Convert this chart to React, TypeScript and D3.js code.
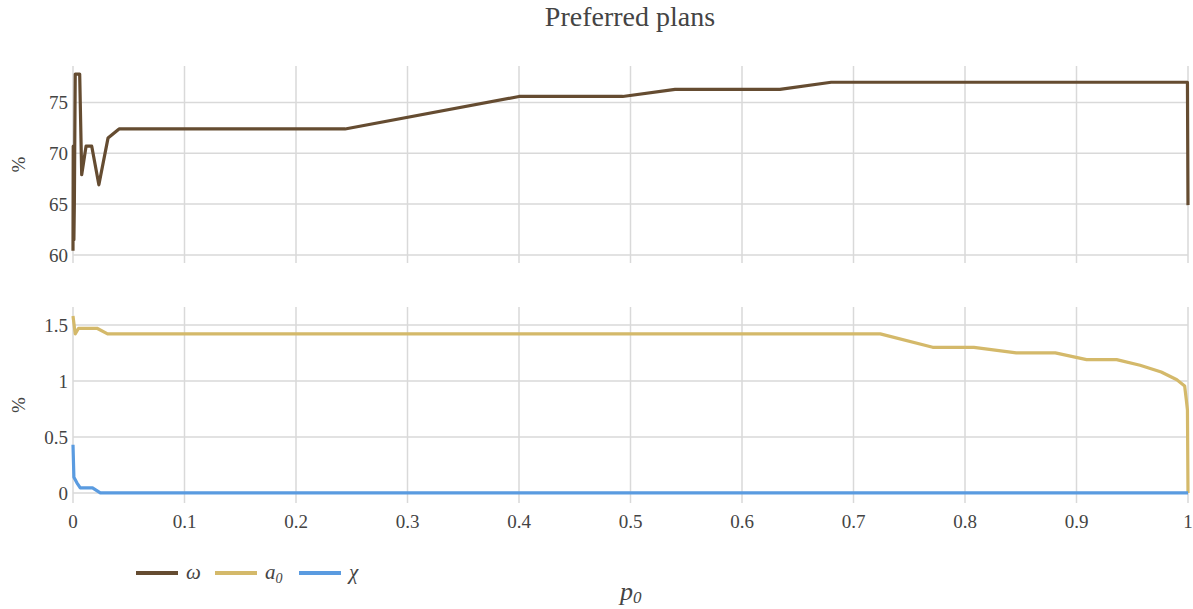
import React from "react";
import * as d3 from "d3";

const omegaP = [0, 0.0002, 0.0008, 0.0012, 0.002, 0.006, 0.0078, 0.0117, 0.0168, 0.0232, 0.0314, 0.0413, 0.244, 0.4, 0.493, 0.54, 0.634, 0.68, 0.9995, 1.0];
const omegaV = [60.4, 70.7, 61.5, 64.9, 77.8, 77.8, 67.9, 70.7, 70.7, 66.9, 71.5, 72.4, 72.4, 75.6, 75.6, 76.3, 76.3, 77.0, 77.0, 64.9];

const a0P = [0, 0.002, 0.005, 0.0215, 0.031, 0.724, 0.771, 0.808, 0.846, 0.881, 0.909, 0.936, 0.957, 0.976, 0.99, 0.997, 0.9985, 0.9995, 1.0];
const a0V = [1.58, 1.42, 1.47, 1.47, 1.42, 1.42, 1.3, 1.3, 1.25, 1.25, 1.19, 1.19, 1.14, 1.08, 1.01, 0.955, 0.83, 0.74, 0.0];

const chiP = [0, 0.0008, 0.0035, 0.0065, 0.0175, 0.0245, 1.0];
const chiV = [0.43, 0.14, 0.09, 0.045, 0.045, 0.0, 0.0];

const xTicks = [0, 0.1, 0.2, 0.3, 0.4, 0.5, 0.6, 0.7, 0.8, 0.9, 1];
const topTicks = [60, 65, 70, 75];
const botTicks = [0, 0.5, 1, 1.5];

const C_OMEGA = "#654c31";
const C_A0 = "#d4b96a";
const C_CHI = "#5a9be0";
const GRID = "#d9d9d9";
const TXT = "#444";
const FONT = "'Liberation Serif', 'DejaVu Serif', serif";

export default function App() {
  const W = 1193, H = 609;
  const x = d3.scaleLinear().domain([0, 1]).range([73, 1188]);
  const yTop = d3.scaleLinear().domain([59.2, 78.6]).range([263, 66]);
  const yBot = d3.scaleLinear().domain([-0.09, 1.66]).range([503, 307]);

  const mk = (ys: d3.ScaleLinear<number, number>) =>
    d3.line<[number, number]>().x(d => x(d[0])).y(d => ys(d[1]));
  const omegaPath = mk(yTop)(omegaP.map((p, i) => [p, omegaV[i]]));
  const a0Path = mk(yBot)(a0P.map((p, i) => [p, a0V[i]]));
  const chiPath = mk(yBot)(chiP.map((p, i) => [p, chiV[i]]));

  const panel = (ys: d3.ScaleLinear<number, number>, ticks: number[], key: string) => {
    const [y0, y1] = ys.range();
    return (
      <g key={key}>
        {xTicks.map(t => (
          <line key={"vx" + t} x1={x(t)} x2={x(t)} y1={y1} y2={y0} stroke={GRID} strokeWidth={1.5} />
        ))}
        {ticks.map(t => (
          <g key={"hy" + t}>
            <line x1={x(0)} x2={x(1)} y1={ys(t)} y2={ys(t)} stroke={GRID} strokeWidth={1.5} />
            <text x={68} y={ys(t)} dy="0.35em" textAnchor="end" fontSize={19} fill={TXT} fontFamily={FONT}>{t}</text>
          </g>
        ))}
        <text transform={`translate(25,${(y0 + y1) / 2}) rotate(-90)`} textAnchor="middle" fontSize={19} fill={TXT} fontFamily={FONT}>%</text>
      </g>
    );
  };

  const legend = [
    { c: C_OMEGA, x0: 136, label: <tspan fontStyle="italic">ω</tspan> },
    { c: C_A0, x0: 215, label: <><tspan fontStyle="italic">a</tspan><tspan fontStyle="italic" fontSize={14} dy={4}>0</tspan></> },
    { c: C_CHI, x0: 299, label: <tspan fontStyle="italic">χ</tspan> },
  ];

  return (
    <svg width={W} height={H} style={{ position: "absolute", left: 0, top: 0, background: "#fff" }}>
      <rect width={W} height={H} fill="#fff" />
      <text x={630} y={26} textAnchor="middle" fontSize={28} fill={TXT} fontFamily={FONT}>Preferred plans</text>
      {panel(yTop, topTicks, "top")}
      {panel(yBot, botTicks, "bot")}
      {xTicks.map(t => (
        <text key={"xt" + t} x={x(t)} y={528} textAnchor="middle" fontSize={19} fill={TXT} fontFamily={FONT}>{t}</text>
      ))}
      <path d={omegaPath ?? ""} fill="none" stroke={C_OMEGA} strokeWidth={3.2} strokeLinejoin="round" />
      <path d={a0Path ?? ""} fill="none" stroke={C_A0} strokeWidth={3.2} strokeLinejoin="round" />
      <path d={chiPath ?? ""} fill="none" stroke={C_CHI} strokeWidth={3.2} strokeLinejoin="round" />
      {legend.map((l, i) => (
        <g key={"lg" + i}>
          <line x1={l.x0} x2={l.x0 + 42} y1={573} y2={573} stroke={l.c} strokeWidth={4} />
          <text x={l.x0 + 50} y={579} fontSize={21} fill={TXT} fontFamily={FONT}>{l.label}</text>
        </g>
      ))}
      <text x={620} y={600} fontSize={26} fill={TXT} fontFamily={FONT}>
        <tspan fontStyle="italic">p</tspan><tspan fontStyle="italic" fontSize={17} dy={3}>0</tspan>
      </text>
    </svg>
  );
}
